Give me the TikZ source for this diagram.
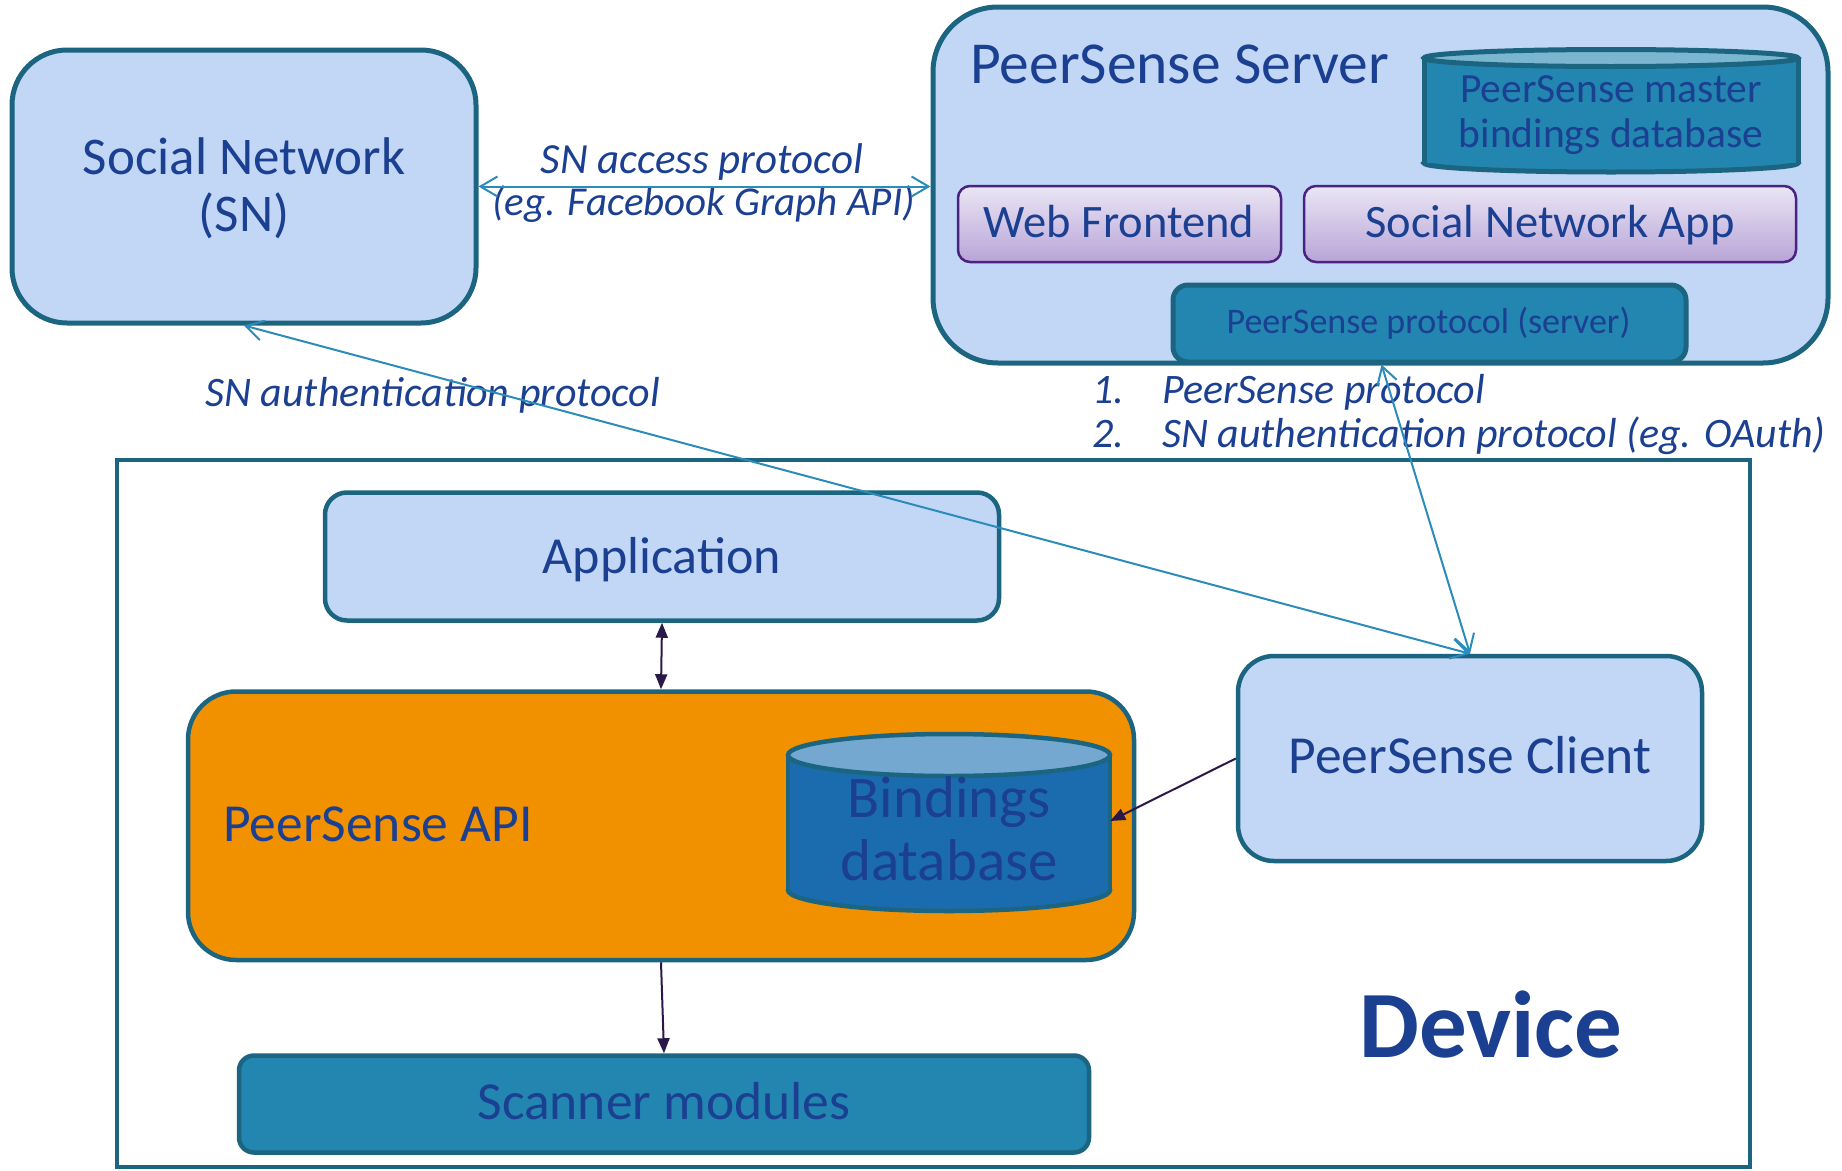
\documentclass[tikz,border=0pt]{standalone}
\usepackage{fontspec}
\setmainfont{Carlito}
\usetikzlibrary{arrows.meta}

\definecolor{boxfill}{HTML}{C2D6F5}
\definecolor{boxline}{HTML}{1B6580}
\definecolor{txtblue}{HTML}{1B3F91}
\definecolor{apiorange}{HTML}{F29100}
\definecolor{tealfill}{HTML}{2286B1}
\definecolor{dbbody}{HTML}{1B6CAE}
\definecolor{dbtop}{HTML}{74A8D0}
\definecolor{mastertop}{HTML}{7BB6D1}
\definecolor{linkteal}{HTML}{2B8CBB}
\definecolor{linkdark}{HTML}{2A1848}
\definecolor{appline}{HTML}{4A2282}
\definecolor{apptop}{HTML}{EAE6F5}
\definecolor{appbottom}{HTML}{B8A4D7}

\begin{document}
\begin{tikzpicture}[x=1pt,y=-1pt,
  fs/.style={font=\fontsize{#1}{#1}\selectfont},
  fsi/.style={font=\fontsize{#1}{#1}\selectfont\itshape},
  lbl/.style={inner sep=0pt, text=txtblue},
  panel/.style={draw=boxline, line width=5pt, fill=boxfill, inner sep=0pt},
  tealbox/.style={draw=boxline, line width=5pt, fill=tealfill, inner sep=0pt, rounded corners=15pt},
  appbox/.style={draw=appline, line width=2.5pt, top color=apptop, bottom color=appbottom,
                 inner sep=0pt, rounded corners=12pt},
  tealarrow/.style={draw=linkteal, line width=2pt,
                    {Straight Barb[length=17pt,width=20pt]}-{Straight Barb[length=17pt,width=20pt]}},
  darklink/.style={draw=linkdark, line width=2pt},
  darktip/.style={-{Triangle[length=15pt,width=12pt]}},
  bothtips/.style={{Triangle[length=15pt,width=12pt]}-{Triangle[length=15pt,width=12pt]}}
]
\useasboundingbox (0,0) rectangle (1842,1170);

% ---------- Device frame ----------
\node[draw=boxline, line width=4pt, minimum width=1633pt, minimum height=707pt, inner sep=0pt]
  (device) at (933.5,813.5) {};
\node[lbl, anchor=base west, font=\fontsize{95}{95}\selectfont\bfseries]
  (devicelbl) at (1359,1057) {Device};

% ---------- Social network ----------
\node[panel, rounded corners=55pt, minimum width=464pt, minimum height=273pt] (sn) at (244,186.5) {};
\node[lbl, anchor=base, fs=53] (snl1) at (244,174) {Social Network};
\node[lbl, anchor=base, fs=53] (snl2) at (244,231) {(SN)};

% ---------- PeerSense server ----------
\node[panel, rounded corners=65pt, minimum width=895pt, minimum height=356pt] (server) at (1380.5,185) {};
\node[lbl, anchor=base west, fs=59.5] (serverlbl) at (970,83) {PeerSense Server};

% master bindings database (cylinder)
\draw[boxline, line width=5pt, fill=tealfill] (1611,163) ellipse [x radius=187, y radius=9];
\fill[tealfill] (1424,58) rectangle (1798,163);
\draw[boxline, line width=5pt] (1424,58) -- (1424,163) (1798,58) -- (1798,163);
\draw[boxline, line width=5pt, fill=mastertop] (1611,58) ellipse [x radius=187, y radius=8.5];
\node[inner sep=0pt, minimum width=374pt, minimum height=105pt] (masterdb) at (1611,110) {};
\node[lbl, anchor=base, fs=41.5] (masterl1) at (1611,102) {PeerSense master};
\node[lbl, anchor=base, fs=41.5] (masterl2) at (1611,147) {bindings database};

\node[appbox, minimum width=323pt, minimum height=76pt] (web) at (1119.5,224) {};
\node[lbl, anchor=base, fs=46.5] (weblbl) at (1119,237) {Web Frontend};
\node[appbox, minimum width=492pt, minimum height=76pt] (snapp) at (1550,224) {};
\node[lbl, anchor=base, fs=46.5] (snapplbl) at (1550,237) {Social Network App};

\node[tealbox, minimum width=513pt, minimum height=77pt] (proto) at (1429.5,323.5) {};
\node[lbl, anchor=base, fs=36] (protolbl) at (1428.5,333) {PeerSense protocol (server)};

% ---------- Device components ----------
\node[panel, line width=4.5pt, rounded corners=22pt, minimum width=674pt, minimum height=128pt] (app) at (662,556.5) {};
\node[lbl, anchor=base, fs=52] (applbl) at (662,573) {Application};

\node[draw=boxline, line width=4.5pt, fill=apiorange, inner sep=0pt, rounded corners=48pt,
      minimum width=946pt, minimum height=268.5pt] (api) at (661,825.75) {};
\node[lbl, anchor=base west, fs=53.5] (apilbl) at (223,841) {PeerSense API};

% bindings database (cylinder)
\draw[boxline, line width=4.5pt, fill=dbbody] (949,890) ellipse [x radius=161, y radius=21];
\fill[dbbody] (788,755) rectangle (1110,890);
\draw[boxline, line width=4.5pt] (788,755) -- (788,890) (1110,755) -- (1110,890);
\draw[boxline, line width=4.5pt, fill=dbtop] (949,755) ellipse [x radius=161, y radius=21];
\node[inner sep=0pt, minimum width=322pt, minimum height=135pt] (bdb) at (949,821) {};
\node[lbl, anchor=base, fs=59] (bdbl1) at (949,817) {Bindings};
\node[lbl, anchor=base, fs=59] (bdbl2) at (949,880) {database};

\node[panel, line width=4.5pt, rounded corners=36pt, minimum width=464pt, minimum height=205pt] (client) at (1470,758.5) {};
\node[lbl, anchor=base, fs=53.5] (clientlbl) at (1470,773) {PeerSense Client};

\node[tealbox, line width=4.5pt, minimum width=850pt, minimum height=97pt] (scanner) at (664,1104) {};
\node[lbl, anchor=base, fs=53.5] (scannerlbl) at (664,1119) {Scanner modules};

% ---------- link labels ----------
\node[lbl, anchor=base, fsi=43] (accl1) at (702,173) {SN access protocol};
\node[lbl, anchor=base, fsi=41] (accl2) at (703.5,215) {(eg. Facebook Graph API)};
\node[lbl, anchor=base west, fsi=42] (authlbl) at (205,406) {SN authentication protocol};
\node[lbl, anchor=base west, fsi=42] (plist1) at (1092,403)
  {\makebox[70pt][l]{1.}PeerSense protocol};
\node[lbl, anchor=base west, fsi=42] (plist2) at (1092,447)
  {\makebox[70pt][l]{2.}SN authentication protocol (eg. OAuth)};

% ---------- connectors ----------
\draw[tealarrow] (sn.east) -- (sn.east -| server.west);
\draw[tealarrow] (sn.south) -- (client.north);
\draw[tealarrow] ([xshift=-48pt]proto.south) -- (client.north);

\draw[darklink, bothtips] (app.south) -- (api.north);
\draw[darklink, darktip] (api.south) -- (scanner.north);
\draw[darklink, darktip] (client.west) -- (bdb.east);
\end{tikzpicture}
\end{document}
